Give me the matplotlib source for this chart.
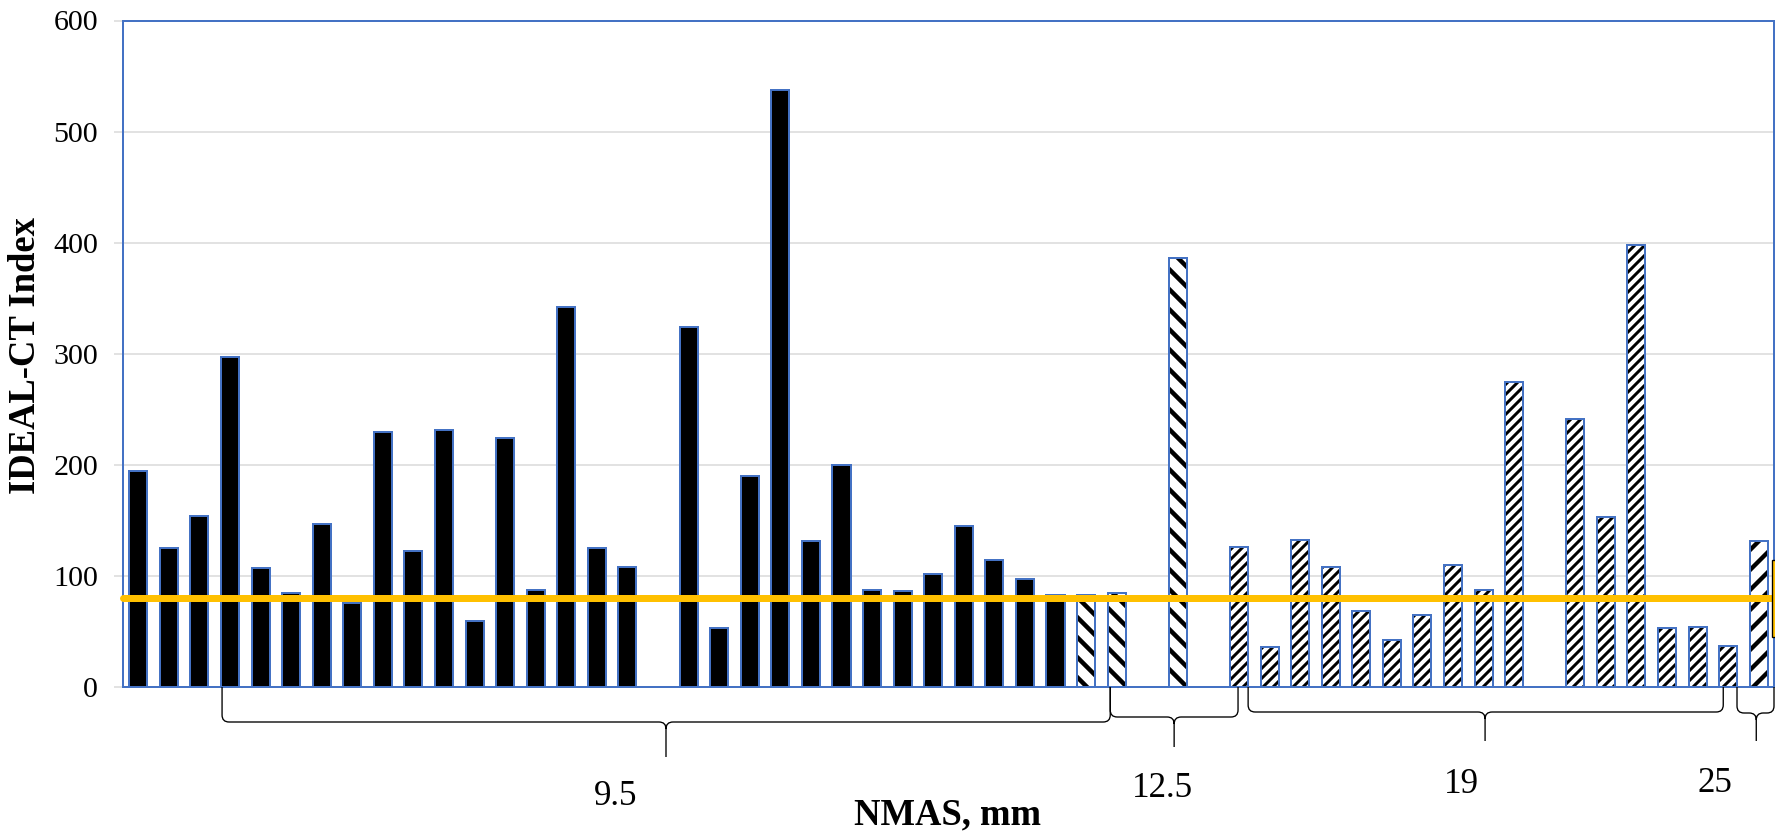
import numpy as np
import matplotlib
matplotlib.use("Agg")
import matplotlib.pyplot as plt
from matplotlib.path import Path
from matplotlib.patches import PathPatch, Rectangle
from matplotlib.transforms import IdentityTransform, blended_transform_factory

# ---------------- data ----------------
nmas_groups = ["9.5", "12.5", "19", "25"]
group_sizes = [31, 5, 17, 1]          # number of mixture slots per NMAS group
ideal_ct = [194, 125, 154, 297, 107, 85, 147, 76, 230, 122, 231, 59, 224, 87,
            342, 125, 108, None, 324, 53, 190, 537, 131, 200, 87, 86, 102, 145,
            114, 97, 83,
            83, 85, None, 386, None,
            126, 36, 132, 108, 68, 42, 65, 110, 87, 275, None, 241, 153, 398,
            53, 54, 37,
            131]
threshold = 80
y_ticks = [0, 100, 200, 300, 400, 500, 600]
y_label = "IDEAL-CT Index"
x_label = "NMAS, mm"

# ---------------- styles ----------------
W, H, DPI = 1775, 833, 120
BLUE = "#4472C4"
GOLD = "#FFC000"
GRID = "#D9D9D9"
group_style = {
    "9.5": dict(hatch=None, hlw=0),
    "12.5": dict(hatch="\\\\", hlw=2.7),
    "19": dict(hatch="////", hlw=1.8),
    "25": dict(hatch="//", hlw=2.6),
}

plt.rcParams["font.family"] = ["Liberation Serif", "DejaVu Serif"]

fig = plt.figure(figsize=(W / DPI, H / DPI), dpi=DPI)
ax_l, ax_r, ax_t, ax_b = 123, 1774, 20.5, 687
ax = fig.add_axes([ax_l / W, (H - ax_b) / H, (ax_r - ax_l) / W, (ax_b - ax_t) / H])

n = len(ideal_ct)
x = np.arange(n)
bar_group = []
for g, s in zip(nmas_groups, group_sizes):
    bar_group += [g] * s

bw = 0.59
for xi, v, g in zip(x, ideal_ct, bar_group):
    if v is None:
        continue
    st = group_style[g]
    if st["hatch"] is None:
        ax.bar(xi, v, width=bw, color="black", edgecolor=BLUE, linewidth=1.2, zorder=2)
    else:
        with plt.rc_context({"hatch.linewidth": st["hlw"]}):
            b = ax.bar(xi, v, width=bw, facecolor="white", edgecolor="black",
                       linewidth=0, hatch=st["hatch"], zorder=2)
        for p in b:
            if hasattr(p, "set_hatch_linewidth"):
                p.set_hatch_linewidth(st["hlw"])
        ax.bar(xi, v, width=bw, fill=False, edgecolor=BLUE, linewidth=1.2, zorder=2.5)

ax.plot([-0.5, n - 0.5], [threshold, threshold], color=GOLD, lw=4.2,
        solid_capstyle="round", clip_on=False, zorder=4)

ax.set_xlim(-0.5, n - 0.5)
ax.set_ylim(0, 600)
ax.set_yticks(y_ticks)
ax.set_xticks([])
ax.tick_params(axis="y", length=5.4, width=0.9, color=GRID, pad=9.6,
               labelsize=18, labelcolor="black")
ax.yaxis.grid(True, color=GRID, lw=0.9)
ax.set_axisbelow(True)
for s in ax.spines.values():
    s.set_color(BLUE)
    s.set_linewidth(1.2)
    s.set_zorder(3)

fig.text(26 / W, 1 - 355 / H, y_label, rotation=90, ha="center", va="center",
         fontsize=22, fontweight="bold")
fig.text(948 / W, 1 - 824 / H, x_label, ha="center", va="baseline",
         fontsize=22, fontweight="bold")

# ---------------- group braces and labels ----------------
brace_spans = [(2.74, 31.79, 17.26, 722, 757),
               (31.79, 35.97, 33.88, 717, 747),
               (36.30, 51.84, 44.05, 712, 741),
               (52.29, 53.50, 52.92, 713, 741)]
label_pos = [(15.6, 805), (33.49, 797), (43.27, 793), (51.58, 792)]

def px(xd):
    return ax.transData.transform((xd, 0))[0]

r = 7
Ytop = H - ax_b
for (a, b, t, ym, yb) in brace_spans:
    X0, X1, Xt = px(a), px(b), px(t)
    Ym, Yb = H - ym, H - yb
    verts = [(X0, Ytop), (X0, Ym + r), (X0, Ym), (X0 + r, Ym), (Xt - r, Ym),
             (Xt, Ym), (Xt, Ym - r), (Xt, Yb),
             (X1, Ytop), (X1, Ym + r), (X1, Ym), (X1 - r, Ym), (Xt + r, Ym),
             (Xt, Ym), (Xt, Ym - r)]
    codes = [Path.MOVETO, Path.LINETO, Path.CURVE3, Path.CURVE3, Path.LINETO,
             Path.CURVE3, Path.CURVE3, Path.LINETO,
             Path.MOVETO, Path.LINETO, Path.CURVE3, Path.CURVE3, Path.LINETO,
             Path.CURVE3, Path.CURVE3]
    pp = PathPatch(Path(verts, codes), fill=False, edgecolor="black", lw=0.8,
                   transform=IdentityTransform(), clip_on=False)
    fig.add_artist(pp)

tr = blended_transform_factory(ax.transData, fig.transFigure)
for g, (xl, yl) in zip(nmas_groups, label_pos):
    ax.text(xl, 1 - yl / H, g, transform=tr, ha="center", va="baseline",
            fontsize=21, clip_on=False)

# cut-off legend box at the right edge
fig.add_artist(Rectangle((1772 / W, 1 - 637 / H), 6 / W, 77 / H,
                         facecolor=GOLD, edgecolor="black", lw=0.8,
                         transform=fig.transFigure, clip_on=False))

fig.savefig("out.png", dpi=DPI)
